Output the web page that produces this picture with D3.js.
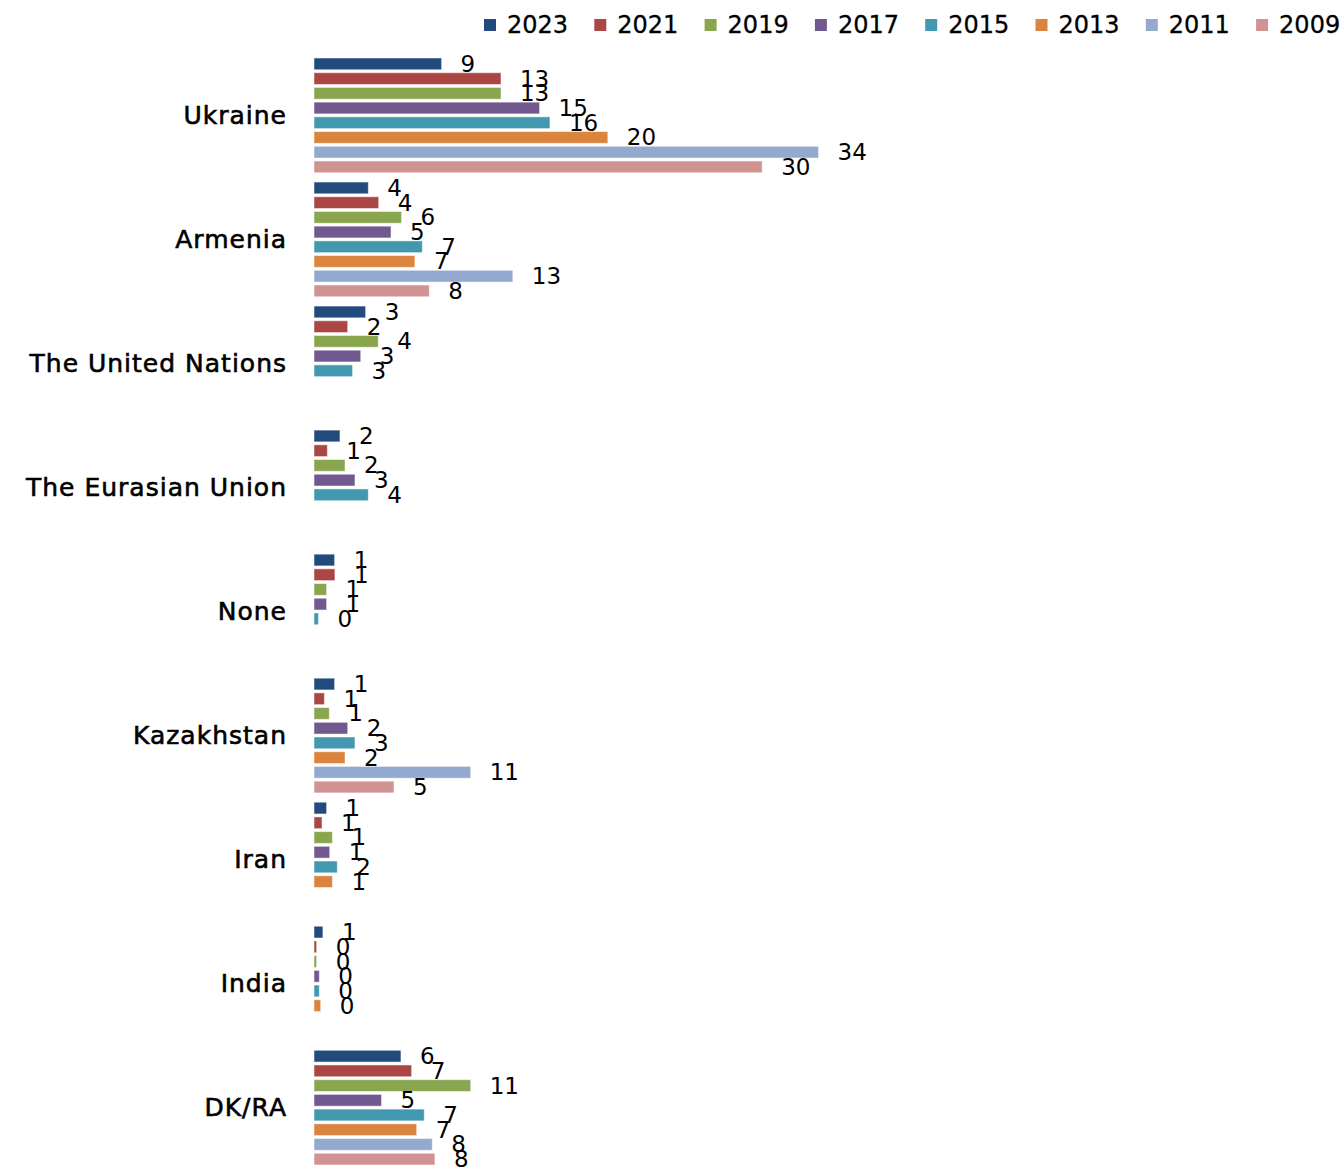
<!DOCTYPE html>
<html>
<head>
<meta charset="utf-8">
<script src="https://cdn.jsdelivr.net/npm/d3@7"></script>
<style>
  body { margin: 0; background: #fff; }
  text { font-family: "DejaVu Sans", sans-serif; fill: #000; }
</style>
</head>
<body>
<div id="chart"></div>
<script>
// categories, top to bottom
const categories = ["Ukraine", "Armenia", "The United Nations", "The Eurasian Union",
  "None", "Kazakhstan", "Iran", "India", "DK/RA"];

const years = ["2023", "2021", "2019", "2017", "2015", "2013", "2011", "2009"];

// values per survey year, same order as categories (null = not asked that year)
const v2023 = [8.6, 3.66, 3.48, 1.75, 1.39, 1.39, 0.85, 0.6, 5.86];
const v2021 = [12.6, 4.36, 2.27, 0.9, 1.41, 0.7, 0.54, 0.18, 6.58];
const v2019 = [12.6, 5.9, 4.33, 2.09, 0.85, 1.03, 1.24, 0.18, 10.56];
const v2017 = [15.2, 5.19, 3.15, 2.76, 0.85, 2.27, 1.06, 0.36, 4.55];
const v2015 = [15.9, 7.3, 2.6, 3.66, 0.3, 2.76, 1.57, 0.36, 7.43];
const v2013 = [19.8, 6.8, null, null, null, 2.09, 1.24, 0.45, 6.92];
const v2011 = [34, 13.4, null, null, null, 10.56, null, null, 7.97];
const v2009 = [30.2, 7.77, null, null, null, 5.39, null, null, 8.15];

const seriesValues = [v2023, v2021, v2019, v2017, v2015, v2013, v2011, v2009];

const colors = ["#234a7c", "#aa4643", "#89a54e", "#71588f", "#4198af", "#db843d", "#93a9cf", "#d19392"];

const width = 1343;
const height = 1168;

const svg = d3.select("#chart")
  .append("svg")
  .attr("width", width)
  .attr("height", height);

// build rows: one per category with a value per year
const rows = categories.map((c, i) => {
  const row = { category: c };
  years.forEach((y, j) => { row[y] = seriesValues[j][i]; });
  return row;
});

const x = d3.scaleLinear()
  .domain([0, 35])
  .range([314, 314 + 35 * 14.84]);

const y0 = d3.scaleBand()
  .domain(categories)
  .range([58, 1165])
  .paddingInner(0.075);

const y1 = d3.scaleBand()
  .domain(years)
  .range([0, y0.bandwidth()])
  .paddingInner(0.2);

const color = d3.scaleOrdinal().domain(years).range(colors);

// category labels (regular face, thickened a little with a thin stroke)
svg.append("g")
  .selectAll("text")
  .data(categories)
  .enter()
  .append("text")
  .attr("x", 287)
  .attr("y", d => y0(d) + y0.bandwidth() / 2)
  .attr("text-anchor", "end")
  .attr("dominant-baseline", "central")
  .attr("stroke", "#000")
  .attr("stroke-width", 0.6)
  .style("font-size", "25px")
  .style("letter-spacing", "1px")
  .text(d => d);

const groups = svg.append("g")
  .selectAll("g")
  .data(rows)
  .enter()
  .append("g")
  .attr("transform", d => `translate(0,${y0(d.category)})`);

const cells = d => years
  .map(y => ({ year: y, value: d[y] }))
  .filter(e => e.value !== null);

groups.selectAll("rect")
  .data(cells)
  .enter()
  .append("rect")
  .attr("x", x(0))
  .attr("y", d => y1(d.year))
  .attr("width", d => x(d.value) - x(0))
  .attr("height", y1.bandwidth())
  .attr("fill", d => color(d.year))
  .attr("stroke", "#ffffff")
  .attr("stroke-opacity", 0.5)
  .attr("stroke-width", 1);

groups.selectAll("text.val")
  .data(cells)
  .enter()
  .append("text")
  .attr("class", "val")
  .attr("x", d => x(d.value) + 19)
  .attr("y", d => y1(d.year) + y1.bandwidth() / 2)
  .attr("dominant-baseline", "central")
  .style("font-size", "23px")
  .text(d => Math.round(d.value));

// legend across the top
const legend = svg.append("g")
  .selectAll("g")
  .data(years)
  .enter()
  .append("g")
  .attr("transform", (d, i) => `translate(${484 + i * 110.3},0)`);

legend.append("rect")
  .attr("x", 0)
  .attr("y", 19)
  .attr("width", 12)
  .attr("height", 12)
  .attr("fill", d => color(d));

legend.append("text")
  .attr("x", 23)
  .attr("y", 25)
  .attr("dominant-baseline", "central")
  .attr("stroke", "#000")
  .attr("stroke-width", 0.3)
  .style("font-size", "24px")
  .text(d => d);
</script>
</body>
</html>
